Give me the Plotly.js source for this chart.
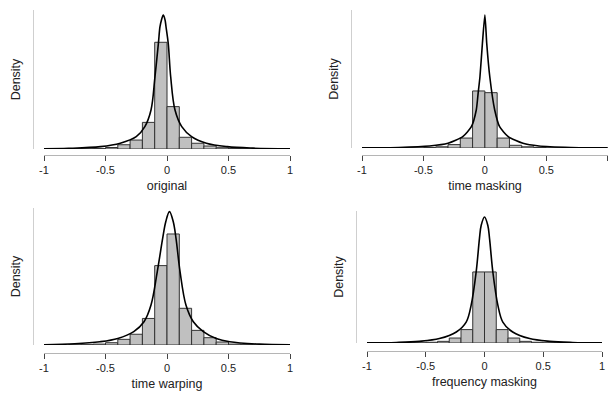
<!DOCTYPE html>
<html><head><meta charset="utf-8">
<script src="https://cdn.plot.ly/plotly-3.0.1.min.js"></script>
<style>html,body{margin:0;padding:0;background:#fff}#chart{width:608px;height:396px}</style>
</head><body><div id="chart"></div>
<script>
// Histogram bin centres (bin width 0.1)
const binCenters = [-0.75,-0.65,-0.55,-0.45,-0.35,-0.25,-0.15,-0.05,0.05,0.15,0.25,0.35,0.45,0.55,0.65,0.75];
const histOriginal = [0.005,0.01,0.02,0.07,0.2,0.42,1.25,5.01,1.99,0.55,0.27,0.14,0.06,0.03,0.01,0.005];
const histTimeMasking = [0.003,0.005,0.01,0.035,0.085,0.24,0.70,4.02,3.90,0.70,0.19,0.085,0.035,0.01,0.005,0.003];
const histTimeWarping = [0.005,0.01,0.03,0.077,0.19,0.36,0.89,2.66,3.72,1.23,0.49,0.245,0.10,0.03,0.01,0.005];
const histFreqMasking = [0.003,0.005,0.01,0.04,0.09,0.27,0.73,3.87,3.87,0.73,0.27,0.09,0.04,0.01,0.005,0.003];

// Density curves
const curveOriginalX = [-1,-0.8,-0.54,-0.38,-0.25,-0.18,-0.13,-0.098,-0.07,-0.057,-0.045,-0.03,-0.016,-0.008,0.01,0.03,0.065,0.12,0.2,0.32,0.49,0.7,1];
const curveOriginalY = [0.01,0.03,0.11,0.27,0.58,1.05,1.83,3.39,4.96,5.74,6.06,6.29,6.06,5.74,4.96,3.39,1.83,1.05,0.58,0.27,0.11,0.04,0.01];
const curveTimeMaskingX = [-1,-0.7,-0.45,-0.3,-0.18,-0.11,-0.07,-0.055,-0.04,-0.02,0,0.015,0.04,0.08,0.12,0.19,0.31,0.44,0.7,1];
const curveTimeMaskingY = [0.01,0.04,0.14,0.33,0.8,1.5,2.68,3.85,5.02,7.38,9.37,7.38,5.02,2.68,1.5,0.8,0.33,0.14,0.04,0.01];
const curveTimeWarpingX = [-1,-0.75,-0.545,-0.40,-0.27,-0.187,-0.13,-0.079,-0.035,-0.01,0.02,0.051,0.073,0.106,0.154,0.214,0.295,0.40,0.51,0.75,1];
const curveTimeWarpingY = [0.01,0.04,0.11,0.22,0.45,0.78,1.34,2.46,3.58,4.13,4.47,4.13,3.58,2.46,1.34,0.78,0.45,0.22,0.11,0.03,0.01];
const curveFreqMaskingX = [-1,-0.75,-0.555,-0.384,-0.24,-0.156,-0.114,-0.071,-0.043,-0.028,0,0.028,0.043,0.071,0.114,0.156,0.24,0.384,0.555,0.75,1];
const curveFreqMaskingY = [0.01,0.03,0.09,0.24,0.6,1.14,2.05,3.87,5.69,6.41,6.86,6.41,5.69,3.87,2.05,1.14,0.6,0.24,0.09,0.03,0.01];

const tickVals = [-1,-0.5,0,0.5,1];
const tickText = ['-1','-0.5','0','0.5','1'];
const panelTitles = ['original','time masking','time warping','frequency masking'];
const yTitle = 'Density';

const W = 608, H = 396;
const hists = [histOriginal, histTimeMasking, histTimeWarping, histFreqMasking];
const curvesX = [curveOriginalX, curveTimeMaskingX, curveTimeWarpingX, curveFreqMaskingX];
const curvesY = [curveOriginalY, curveTimeMaskingY, curveTimeWarpingY, curveFreqMaskingY];

// panel geometry in pixels
const panels = [
  {x0:44, x1:290, xr:[-1,1], yb:149, yt:10, ymax:6.526, axY:155, yAxX:33, smooth:1.0},
  {x0:362, x1:608, xr:[-1,1.002], yb:148, yt:10, ymax:9.725, axY:155, yAxX:351, smooth:0.6},
  {x0:44, x1:290, xr:[-1,1], yb:345, yt:208, ymax:4.59, axY:353, yAxX:33, smooth:1.0},
  {x0:367, x1:602, xr:[-1,1], yb:343, yt:211, ymax:7.19, axY:351, yAxX:356, smooth:1.0}
];

const font = {family:'"Liberation Sans", Arial, sans-serif', color:'#222'};
const data = [];
const layout = {
  width:W, height:H, margin:{l:0,r:0,t:0,b:0},
  paper_bgcolor:'#fff', plot_bgcolor:'#fff',
  showlegend:false, bargap:0, font:font
};

panels.forEach((p,i)=>{
  const sfx = i===0 ? '' : String(i+1);
  data.push({
    type:'bar', x:binCenters, y:hists[i], width:0.1,
    xaxis:'x'+sfx, yaxis:'y'+sfx,
    marker:{color:'#c0c0c0', line:{color:'#333', width:1}},
    hoverinfo:'skip'
  });
  data.push({
    type:'scatter', mode:'lines', x:curvesX[i], y:curvesY[i],
    xaxis:'x'+sfx, yaxis:'y'+sfx,
    line:{color:'#000', width:1.6, shape:'spline', smoothing:p.smooth},
    hoverinfo:'skip'
  });
  layout['xaxis'+sfx] = {
    domain:[p.x0/W, p.x1/W], range:p.xr, anchor:'free', position:1-p.axY/H,
    showgrid:false, zeroline:false, showline:true, linecolor:'#b5b5b5', linewidth:1,
    ticks:'outside', ticklen:5, tickcolor:'#444', tickwidth:1,
    tickvals:tickVals, ticktext:tickText, tickfont:{size:11, color:'#222'},
    title:{text:panelTitles[i], font:{size:12.5, color:'#222'}, standoff:6},
    fixedrange:true
  };
  layout['yaxis'+sfx] = {
    domain:[1-p.yb/H, 1-p.yt/H], range:[0,p.ymax], anchor:'free', position:p.yAxX/W,
    showgrid:false, zeroline:false, showline:true, linecolor:'#cfcfcf', linewidth:1,
    ticks:'', showticklabels:false,
    title:{text:yTitle, font:{size:12.5, color:'#222'}, standoff:8},
    fixedrange:true
  };
});

Plotly.newPlot('chart', data, layout, {staticPlot:true});
</script></body></html>
